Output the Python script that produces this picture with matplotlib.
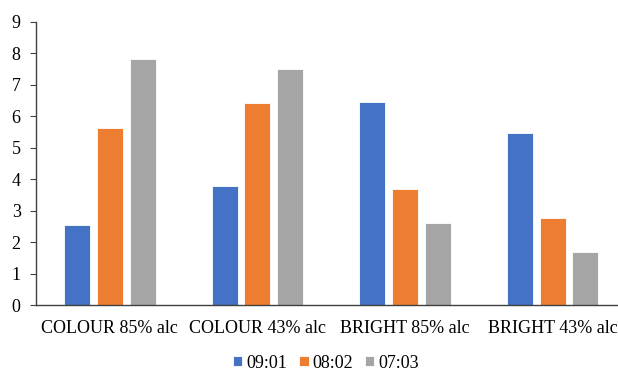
import matplotlib
matplotlib.use('Agg')
import matplotlib.pyplot as plt
import numpy as np

# data
categories = ['COLOUR 85% alc', 'COLOUR 43% alc', 'BRIGHT 85% alc', 'BRIGHT 43% alc']
series_names = ['09:01', '08:02', '07:03']
s0901 = [2.53, 3.79, 6.47, 5.48]
s0802 = [5.62, 6.43, 3.69, 2.76]
s0703 = [7.81, 7.52, 2.60, 1.69]
colors = ['#4472C4', '#ED7D31', '#A5A5A5']

plt.rcParams['font.family'] = ['Liberation Serif', 'DejaVu Serif']

fig = plt.figure(figsize=(6.18, 3.73), dpi=100)
ax = fig.add_axes([36 / 618, 1 - 305 / 373, (618 - 36) / 618, 283 / 373])

x = np.arange(len(categories))
w = 0.176
step = 0.222
for i, (vals, name) in enumerate(zip([s0901, s0802, s0703], series_names)):
    ax.bar(x + (i - 1) * step, vals, width=w, color=colors[i], label=name,
           edgecolor='white', linewidth=0.6)

ax.set_ylim(0, 9)
ax.set_yticks(range(0, 10))
ax.set_xlim(-0.5, 3.443)
ax.set_xticks(x)
ax.set_xticklabels(categories, fontsize=13)
ax.tick_params(axis='x', length=0, pad=11)
ax.tick_params(axis='y', length=4, width=0.8, color='#404040', labelsize=13, pad=7)
for s in ['top', 'right']:
    ax.spines[s].set_visible(False)
for s in ['left', 'bottom']:
    ax.spines[s].set_color('#404040')
    ax.spines[s].set_linewidth(1.0)

fig.legend(loc='center', bbox_to_anchor=(326 / 618, 1 - 363 / 373), ncol=3,
           frameon=False, fontsize=13, handlelength=0.5, handleheight=0.5,
           handletextpad=0.2, columnspacing=0.7)

fig.savefig('out.png', dpi=100)
